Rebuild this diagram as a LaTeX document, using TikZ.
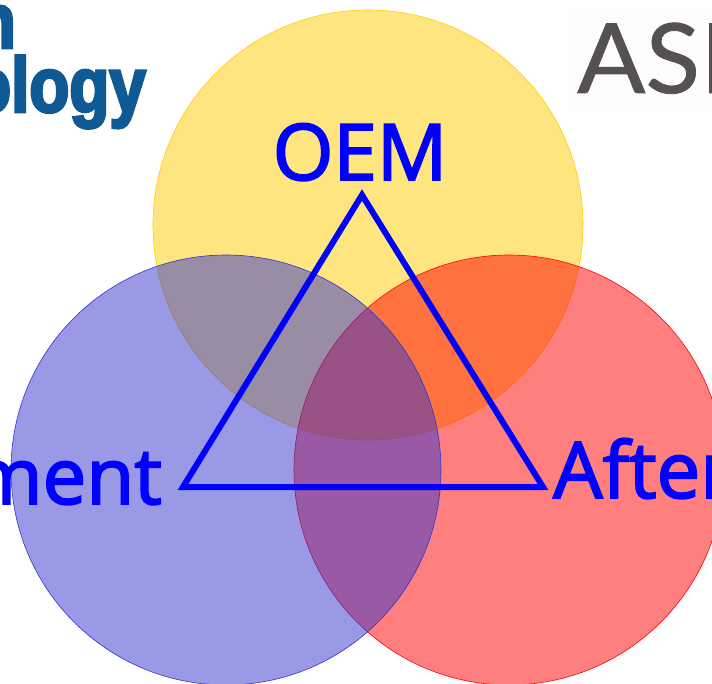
\documentclass[tikz,border=0pt]{standalone}
\usepackage{fontspec}
\setmainfont{Open Sans}
\newfontfamily\logofont[FakeBold=3.5,FakeStretch=0.84]{Liberation Sans Bold}
\newfontfamily\asmfont[FakeBold=0.8,FakeStretch=1.04]{Lato}
\usetikzlibrary{positioning}

\definecolor{oemyellow}{HTML}{FFCC00}
\definecolor{sideblue}{HTML}{3333CC}
\definecolor{techblue}{HTML}{0F5A94}
\definecolor{asmgrey}{HTML}{555052}

\begin{document}
\begin{tikzpicture}[x=1pt,y=-1pt]
    \tikzset{disc/.style={
      circle,
      draw,
      line width=0.6pt,
      fill opacity=0.5,
      minimum size=430pt,
      inner sep=0pt
    }};
    \tikzset{word/.style={
      text=blue,
      font=\fontsize{78}{78}\selectfont\addfontfeatures{FakeBold=2.4},
      inner sep=0pt
    }};
    \tikzset{edgeline/.style={
      draw=blue,
      line width=6pt,
      line join=miter
    }};

    \useasboundingbox (0,0) rectangle (712,684);
    \clip (0,0) rectangle (712,684);

    % logos behind the circles
    \fill[white!99!black] (568,8) rectangle (712,112);
    \node [anchor=base east, inner sep=0pt, text=techblue,
      font=\logofont\fontsize{78}{78}\selectfont] (techword) at (146,112) {ology};
    \node [anchor=base east, inner sep=0pt, text=techblue,
      font=\logofont\fontsize{78}{78}\selectfont] (techtop) at (16,48) {n};
    \node [anchor=base west, inner sep=0pt, text=asmgrey,
      font=\asmfont\fontsize{97}{97}\selectfont] (asm) at (577,93) {ASM};

    \node [disc, draw=oemyellow, fill=oemyellow] (oem) at (368,225) {};
    \node [disc, draw=red, fill=red] (after) at (509,470) {};
    \node [disc, draw=sideblue, fill=sideblue] (ment) at (226,470) {};

    \coordinate (top) at (362,195);
    \coordinate (left) at (183,487);
    \coordinate (right) at (543,487);

    \path[edgeline] (top) -- (left) -- (right) -- cycle;

    \node [word, anchor=base] (oemlabel) at (360,180) {OEM};
    \node [word, anchor=base east] (mentlabel) at (162,504) {ment};
    \node [word, anchor=base west] (afterlabel) at (553,498) {After};
  \end{tikzpicture}
\end{document}
